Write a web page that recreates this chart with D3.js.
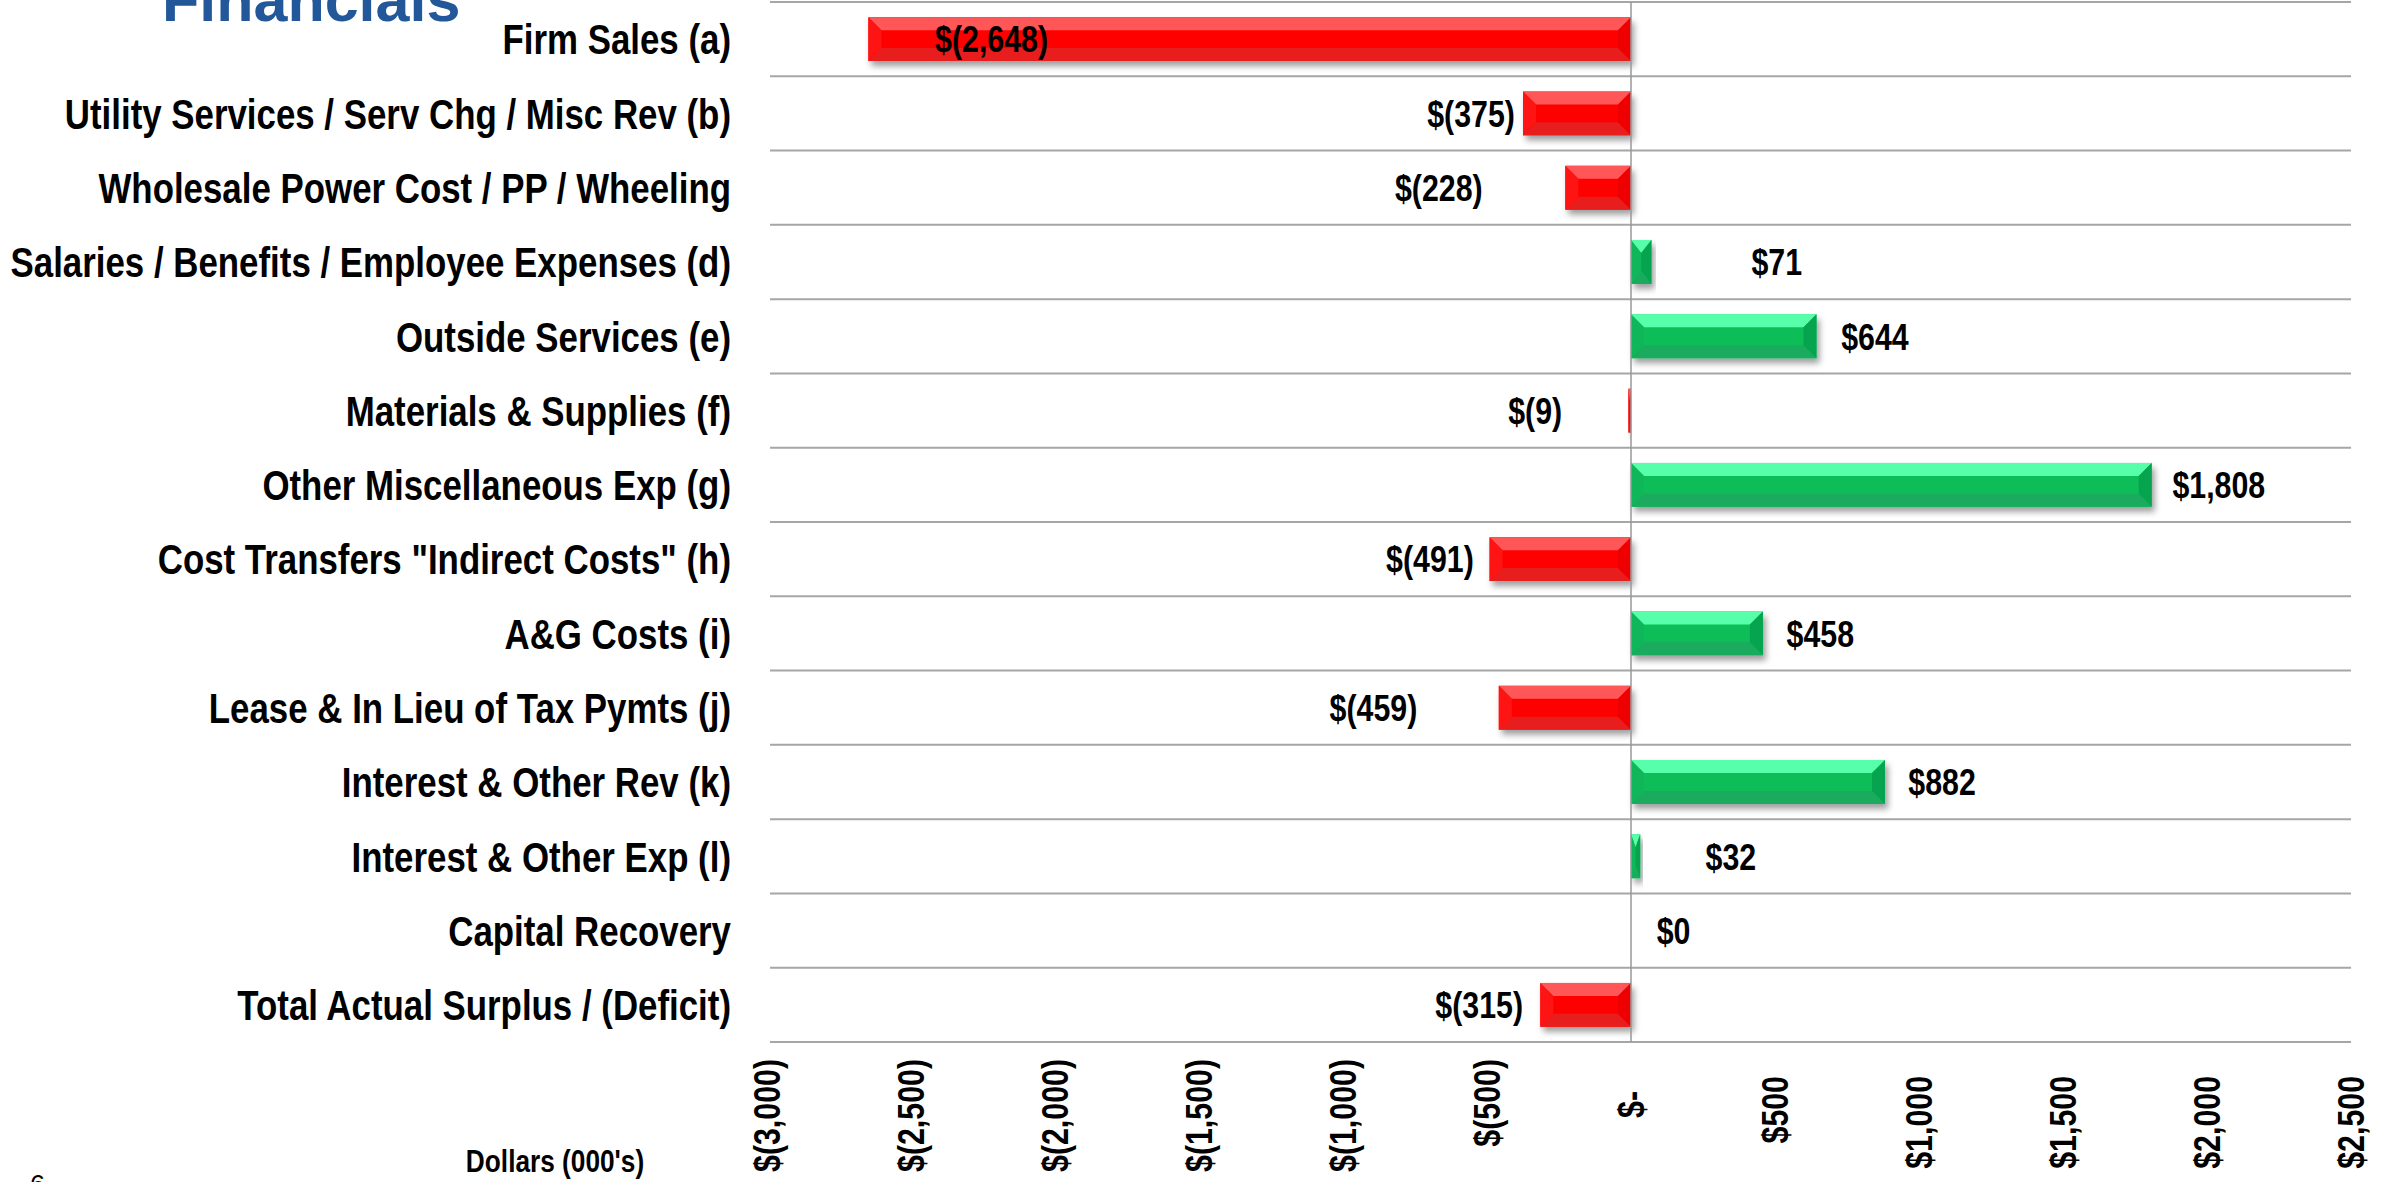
<!DOCTYPE html>
<html><head><meta charset="utf-8">
<script src="https://cdn.jsdelivr.net/npm/d3@7"></script>
<style>
html,body{margin:0;padding:0;background:#fff;overflow:hidden;}
svg{display:block;}
</style></head><body>
<svg id="chart" width="2392" height="1182"></svg>
<script>
// ---------------- data ----------------
const categories = [
  "Firm Sales (a)",
  "Utility Services / Serv Chg / Misc Rev (b)",
  "Wholesale Power Cost / PP / Wheeling",
  "Salaries / Benefits / Employee Expenses (d)",
  "Outside Services (e)",
  "Materials & Supplies (f)",
  "Other Miscellaneous Exp (g)",
  "Cost Transfers \"Indirect Costs\" (h)",
  "A&G Costs (i)",
  "Lease & In Lieu of Tax Pymts (j)",
  "Interest & Other Rev (k)",
  "Interest & Other Exp (l)",
  "Capital Recovery",
  "Total Actual Surplus / (Deficit)"
];
const values = [-2648, -375, -228, 71, 644, -9, 1808, -491, 458, -459, 882, 32, 0, -315];
// where each data label was placed in the original (outer text edge, in $000s)
const labelAnchors = [-2024, -403, -515, 418, 730, -239, 1880, -546, 540, -742, 963, 259, 89, -375];
const tickValues = [-3000, -2500, -2000, -1500, -1000, -500, 0, 500, 1000, 1500, 2000, 2500];
const chartTitle = "Financials";
const axisTitle = "Dollars (000's)";
const pageNumber = "6";

// ---------------- font detection ----------------
const ctx = document.createElement("canvas").getContext("2d");
function w(f){ ctx.font = f; return ctx.measureText("Salaries Benefits 0123").width; }
const hasNarrow = Math.abs(w("bold 40px 'Liberation Sans Narrow', monospace") - w("bold 40px monospace")) > 1;
const NARROW = hasNarrow ? "'Liberation Sans Narrow', 'Arial Narrow', sans-serif" : "'Liberation Sans', Arial, sans-serif";
const SX = hasNarrow ? 1 : 0.82;

// ---------------- layout ----------------
const svg = d3.select("#chart");
const plot = {left: 767, right: 2351, top: 2, bottom: 1042};
const x = d3.scaleLinear().domain([tickValues[0], tickValues[tickValues.length-1]]).range([plot.left, plot.right]);
const y = d3.scaleBand().domain(categories).range([plot.top, plot.bottom]).paddingInner(0.41).paddingOuter(0.205);

const money = v => v < 0 ? "$(" + d3.format(",")(-v) + ")" : "$" + d3.format(",")(v);
const tickFmt = v => v === 0 ? "$-" : money(v);

const defs = svg.append("defs");
const flt = defs.append("filter").attr("id","shadow").attr("x","-10%").attr("y","-30%").attr("width","130%").attr("height","180%");
flt.append("feDropShadow").attr("dx",3).attr("dy",5).attr("stdDeviation",3).attr("flood-color","#000").attr("flood-opacity",0.38);

// gridlines at band boundaries
const bounds = d3.range(categories.length + 1).map(i => plot.top + i * y.step());
svg.append("g").selectAll("line").data(bounds).join("line")
  .attr("x1", plot.left + 3).attr("x2", plot.right).attr("y1", d => d).attr("y2", d => d)
  .attr("stroke", "#a6a6a6").attr("stroke-width", 2);

// bars
const palettes = {
  neg: {mid:"#ff0606", top:"#ff5757", bottom:"#e81d1d", left:"#ff1414", right:"#ee0000"},
  pos: {mid:"#09be59", top:"#58ffaa", bottom:"#1aab5f", left:"#10b65a", right:"#07a44f"}
};
const bars = svg.append("g").selectAll("g").data(values.map((v,i)=>({v, c:categories[i]}))).join("g");
bars.each(function(d){
  if (d.v === 0) return;
  const g = d3.select(this);
  const p = d.v < 0 ? palettes.neg : palettes.pos;
  const x0 = x(Math.min(0, d.v)), x1 = x(Math.max(0, d.v));
  const wd = x1 - x0, t = y(d.c), h = y.bandwidth(), bt = t + h;
  const b = Math.min(13, wd/2), bv = Math.min(13, h/2);
  g.append("rect").attr("x", x0).attr("y", t).attr("width", wd).attr("height", h)
    .attr("fill", p.mid).attr("filter", "url(#shadow)");
  const poly = (pts, fill) => g.append("polygon").attr("points", pts.map(q => q.join(",")).join(" ")).attr("fill", fill);
  poly([[x0,t],[x1,t],[x1-b,t+bv],[x0+b,t+bv]], p.top);
  poly([[x0,bt],[x1,bt],[x1-b,bt-bv],[x0+b,bt-bv]], p.bottom);
  poly([[x0,t],[x0+b,t+bv],[x0+b,bt-bv],[x0,bt]], p.left);
  poly([[x1,t],[x1-b,t+bv],[x1-b,bt-bv],[x1,bt]], p.right);
});

// zero line
svg.append("line").attr("x1", x(0)).attr("x2", x(0)).attr("y1", plot.top).attr("y2", plot.bottom)
  .attr("stroke", "#999").attr("stroke-width", 1.5);

// helper for (optionally compressed) text
function txt(sel, xx, yy, extra) {
  return sel.attr("transform", `translate(${xx},${yy})${extra||""} scale(${SX},1)`);
}

// category labels
svg.append("g").selectAll("text").data(categories).join("text")
  .each(function(c){ txt(d3.select(this), 731, y(c) + y.bandwidth()/2); })
  .attr("text-anchor","end").attr("dy","0.36em")
  .style("font-family", NARROW).style("font-weight","bold").style("font-size","42.5px").attr("fill","#000")
  .text(c => c);

// value labels
svg.append("g").selectAll("text").data(values).join("text")
  .each(function(v,i){ txt(d3.select(this), x(labelAnchors[i]), y(categories[i]) + y.bandwidth()/2); })
  .attr("text-anchor", v => v < 0 ? "end" : "start").attr("dy","0.36em")
  .style("font-family", NARROW).style("font-weight","bold").style("font-size","37px").attr("fill","#000")
  .text(v => money(v));

// x axis
const axis = d3.axisBottom(x).tickValues(tickValues).tickSize(0).tickFormat(tickFmt);
const ax = svg.append("g").attr("transform", `translate(0,${plot.bottom})`).call(axis);
ax.select(".domain").remove();
const pad = v => v < 0 ? 17 : (v > 0 ? 34 : 49);
ax.selectAll(".tick text")
  .attr("x", 0).attr("y", 0).attr("dy", "0.35em")
  .attr("transform", v => `translate(0,${pad(v)}) rotate(-90) scale(${SX},1)`)
  .attr("text-anchor", "end")
  .style("font-family", NARROW).style("font-weight","bold").style("font-size","37px").attr("fill","#000");

// axis title
txt(svg.append("text"), 555, 1172).attr("text-anchor","middle")
  .style("font-family", NARROW).style("font-weight","bold").style("font-size","32px").attr("fill","#000")
  .text(axisTitle);

// slide title (cropped at top) and page number
svg.append("text").attr("x", 162).attr("y", 21)
  .style("font-family","'Liberation Sans', Arial, sans-serif").style("font-weight","bold").style("font-size","61px")
  .attr("fill","#22589a").text(chartTitle);
svg.append("text").attr("x", 30).attr("y", 1194)
  .style("font-family","'Liberation Sans', Arial, sans-serif").style("font-size","27px")
  .attr("fill","#000").text(pageNumber);
</script>
</body></html>
